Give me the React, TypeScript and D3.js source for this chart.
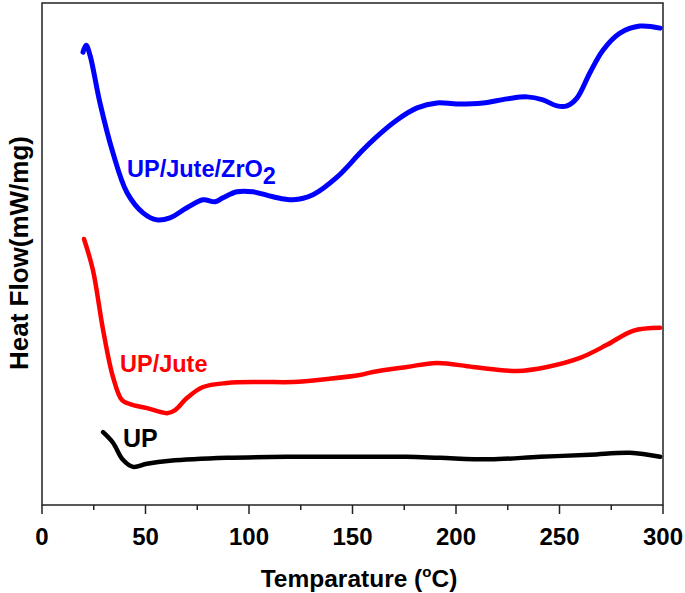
import React from "react";
import * as d3 from "d3";

const xTicks = [0, 50, 100, 150, 200, 250, 300];
const xMinorTicks = [25, 75, 125, 175, 225, 275];

const blueX = [19.8, 21.3, 23.2, 28.0, 34.3, 41.1, 48.8, 55.6, 61.8, 70.0, 77.8, 83.6, 87.4, 94.2, 101.9, 111.6, 121.3, 130.9, 142.5, 153.6, 159.9, 171.5, 181.2, 190.8, 200.5, 213.0, 224.6, 234.3, 242.0, 248.8, 253.6, 258.5, 264.7, 271.0, 279.2, 288.9, 298.6];
const blueY = [90.2, 91.6, 89.6, 80.1, 70.1, 62.2, 58.2, 56.8, 57.2, 59.2, 60.8, 60.4, 61.2, 62.4, 62.4, 61.4, 60.8, 61.8, 65.3, 70.1, 72.7, 76.7, 79.1, 80.1, 79.9, 80.1, 80.9, 81.3, 80.7, 79.5, 79.5, 81.1, 86.1, 90.6, 94.0, 95.4, 95.0];

const redX = [20.3, 24.6, 29.5, 34.3, 38.6, 42.5, 50.7, 60.4, 64.3, 70.0, 77.8, 89.4, 105.3, 121.3, 137.7, 153.6, 159.9, 176.3, 190.8, 208.2, 229.5, 244.0, 259.9, 272.9, 285.5, 298.6];
const redY = [53.0, 46.8, 34.9, 25.5, 20.9, 20.1, 19.3, 18.3, 18.9, 21.3, 23.5, 24.3, 24.5, 24.5, 25.1, 25.9, 26.5, 27.5, 28.3, 27.5, 26.7, 27.5, 29.3, 31.9, 34.7, 35.3];

const blackX = [29.5, 34.3, 39.1, 44.0, 50.7, 61.8, 89.4, 121.3, 153.6, 176.3, 192.3, 216.4, 240.6, 264.7, 284.1, 298.6];
const blackY = [14.5, 12.4, 9.0, 7.6, 8.2, 8.8, 9.4, 9.6, 9.6, 9.6, 9.4, 9.1, 9.6, 10.0, 10.4, 9.6];

const W = 685;
const H = 593;
const left = 42;
const right = 663;
const top = 3;
const bottom = 505;

const font = "'Liberation Sans', Arial, sans-serif";

export default function App() {
  const x = d3.scaleLinear().domain([0, 300]).range([left, right]);
  const y = d3.scaleLinear().domain([0, 100]).range([bottom, top]);
  const line = d3
    .line<[number, number]>()
    .x((d) => x(d[0]))
    .y((d) => y(d[1]))
    .curve(d3.curveCatmullRom.alpha(0.5));

  const series = [
    { xs: blueX, ys: blueY, color: "#0000ff", w: 5 },
    { xs: redX, ys: redY, color: "#ff0000", w: 4.5 },
    { xs: blackX, ys: blackY, color: "#000000", w: 4.5 },
  ];

  return (
    <svg
      width={W}
      height={H}
      style={{ position: "absolute", left: 0, top: 0, background: "#fff" }}
    >
      <rect x={left} y={top} width={right - left} height={bottom - top} fill="none" stroke="#222" strokeWidth={1.5} />
      {xTicks.map((t) => (
        <g key={"M" + t}>
          <line x1={x(t)} x2={x(t)} y1={bottom} y2={bottom + 9} stroke="#222" strokeWidth={1.5} />
          <text x={x(t)} y={545} textAnchor="middle" fontFamily={font} fontWeight="bold" fontSize={24} fill="#000">
            {t}
          </text>
        </g>
      ))}
      {xMinorTicks.map((t) => (
        <line key={"m" + t} x1={x(t)} x2={x(t)} y1={bottom} y2={bottom + 5} stroke="#222" strokeWidth={1.5} />
      ))}
      {series.map((s, i) => (
        <path
          key={i}
          d={line(s.xs.map((v, j) => [v, s.ys[j]] as [number, number])) || ""}
          fill="none"
          stroke={s.color}
          strokeWidth={s.w}
          strokeLinecap="round"
          strokeLinejoin="round"
        />
      ))}
      <text x={127} y={177} fontFamily={font} fontWeight="bold" fontSize={23.5} fill="#0000ff">
        UP/Jute/ZrO<tspan dy={7}>2</tspan>
      </text>
      <text x={120} y={372} fontFamily={font} fontWeight="bold" fontSize={23.5} fill="#ff0000">
        UP/Jute
      </text>
      <text x={123} y={447} fontFamily={font} fontWeight="bold" fontSize={25} fill="#000">
        UP
      </text>
      <text x={359} y={587} textAnchor="middle" fontFamily={font} fontWeight="bold" fontSize={24.5} fill="#000">
        Temparature (<tspan fontSize={15} dy={-10}>o</tspan><tspan dy={10}>C)</tspan>
      </text>
      <text
        transform={`translate(28, 253) rotate(-90)`}
        textAnchor="middle"
        fontFamily={font}
        fontWeight="bold"
        fontSize={26}
        fill="#000"
      >
        Heat Flow(mW/mg)
      </text>
    </svg>
  );
}
